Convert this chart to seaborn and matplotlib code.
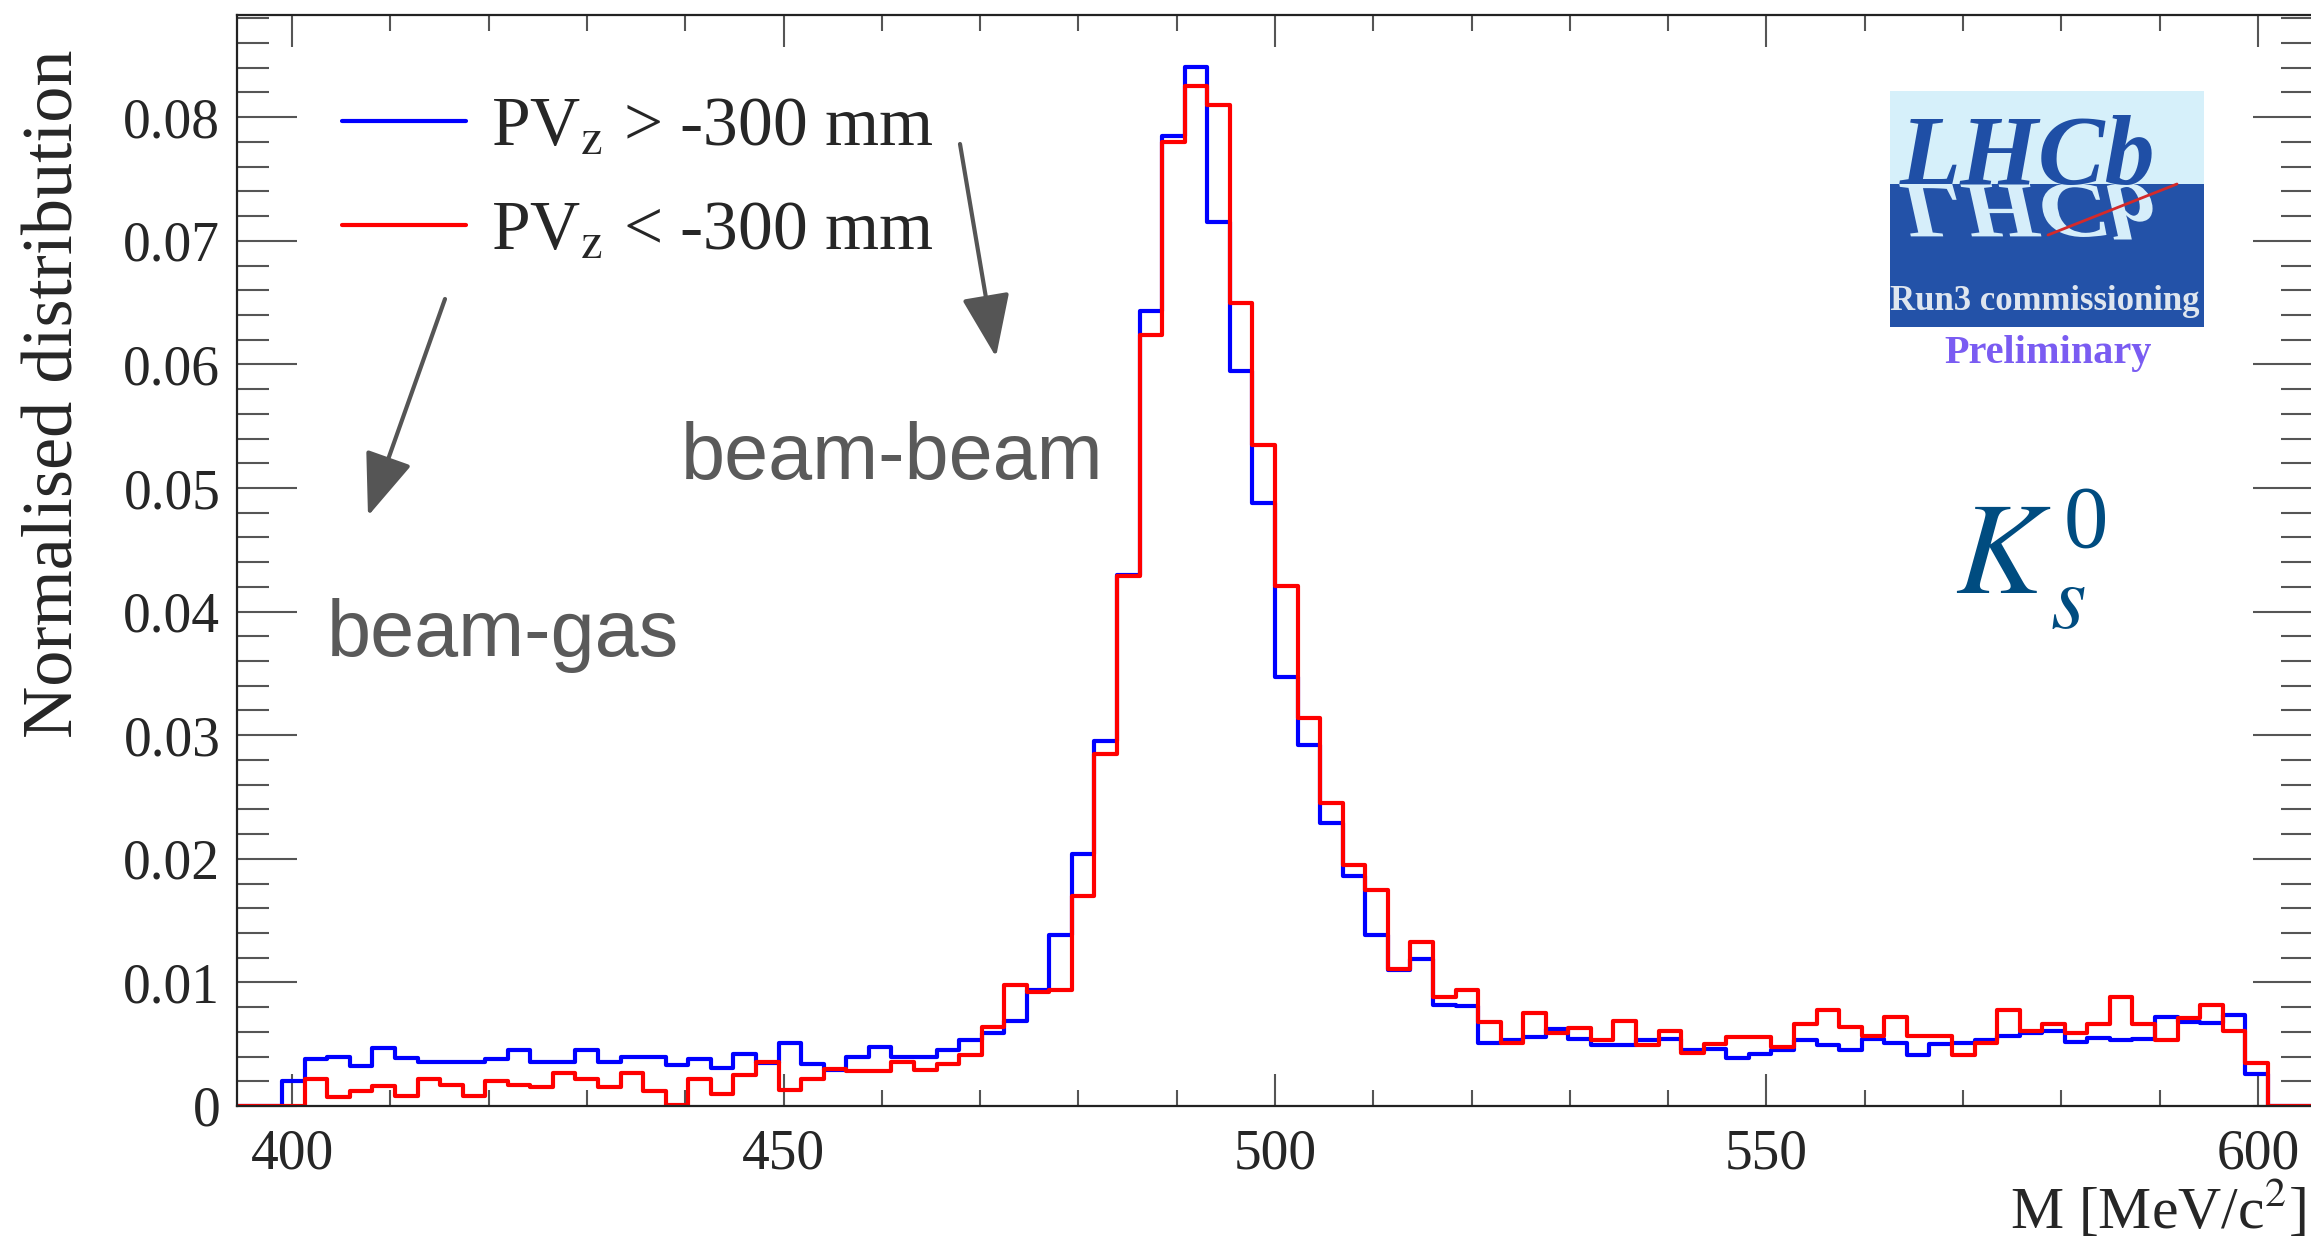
import numpy as np
import pandas as pd
import matplotlib
matplotlib.use('Agg')
import matplotlib.pyplot as plt
import matplotlib.transforms as mtransforms
import seaborn as sns
from matplotlib.lines import Line2D
from matplotlib.patches import Rectangle, PathPatch
from matplotlib.textpath import TextPath
from matplotlib.font_manager import FontProperties
from matplotlib.ticker import FixedLocator, MultipleLocator

# Binning del histograma (92 bins, los extremos vacios)
X_LO, X_HI = 394.4, 605.6
N_BINS = 92

# Distribucion normalizada, PVz > -300 mm (azul)
blue_vals = [0, 0,
             0.0020, 0.0038, 0.0040, 0.0032, 0.0047, 0.0039, 0.0036, 0.0036, 0.0036, 0.0038,
             0.0045, 0.0036, 0.0036, 0.0045, 0.0036, 0.0040, 0.0040, 0.0033, 0.0038, 0.0031,
             0.0042, 0.0035, 0.0051, 0.0034, 0.0029, 0.0040, 0.0048, 0.0040, 0.0040, 0.0045,
             0.0053, 0.0059, 0.0069, 0.0094, 0.0138, 0.0204, 0.0295, 0.0430, 0.0643, 0.0785,
             0.0841, 0.0715, 0.0595, 0.0488, 0.0347, 0.0292, 0.0229, 0.0186, 0.0138, 0.0110,
             0.0119, 0.0082, 0.0081, 0.0051, 0.0053, 0.0056, 0.0062, 0.0054, 0.0049, 0.0049,
             0.0053, 0.0054, 0.0045, 0.0046, 0.0039, 0.0042, 0.0045, 0.0053, 0.0049, 0.0045,
             0.0054, 0.0051, 0.0041, 0.0050, 0.0051, 0.0053, 0.0057, 0.0059, 0.0061, 0.0052,
             0.0055, 0.0053, 0.0054, 0.0072, 0.0068, 0.0067, 0.0074, 0.0026,
             0, 0]

# Distribucion normalizada, PVz < -300 mm (rojo)
red_vals = [0, 0,
            0.0, 0.0022, 0.0007, 0.0012, 0.0016, 0.0008, 0.0022, 0.0017, 0.0008, 0.0020,
            0.0017, 0.0015, 0.0027, 0.0022, 0.0015, 0.0027, 0.0012, 0.0001, 0.0022, 0.0010,
            0.0025, 0.0036, 0.0013, 0.0022, 0.0030, 0.0028, 0.0028, 0.0036, 0.0029, 0.0034,
            0.0041, 0.0064, 0.0098, 0.0092, 0.0094, 0.0170, 0.0285, 0.0429, 0.0624, 0.0780,
            0.0825, 0.0810, 0.0650, 0.0535, 0.0421, 0.0314, 0.0245, 0.0195, 0.0175, 0.0111,
            0.0133, 0.0088, 0.0094, 0.0068, 0.0051, 0.0075, 0.0059, 0.0063, 0.0053, 0.0069,
            0.0049, 0.0061, 0.0043, 0.0050, 0.0056, 0.0056, 0.0048, 0.0066, 0.0078, 0.0064,
            0.0057, 0.0072, 0.0057, 0.0057, 0.0041, 0.0051, 0.0078, 0.0061, 0.0066, 0.0059,
            0.0066, 0.0088, 0.0066, 0.0053, 0.0071, 0.0082, 0.0061, 0.0035,
            0, 0]

x_ticks = [400, 450, 500, 550, 600]
x_tick_labels = ['400', '450', '500', '550', '600']
y_ticks = [0, 0.01, 0.02, 0.03, 0.04, 0.05, 0.06, 0.07, 0.08]
y_tick_labels = ['0', '0.01', '0.02', '0.03', '0.04', '0.05', '0.06', '0.07', '0.08']
legend_labels = ['PV$_{\\mathrm{z}}$ > -300 mm', 'PV$_{\\mathrm{z}}$ < -300 mm']

edges = np.linspace(X_LO, X_HI, N_BINS + 1)
centers = (edges[:-1] + edges[1:]) / 2
df = pd.DataFrame({'M': centers, 'blue': blue_vals, 'red': red_vals})

sns.set_style('ticks')
plt.rcParams['font.family'] = ['Liberation Serif', 'DejaVu Serif']
plt.rcParams['mathtext.fontset'] = 'stix'

W, H = 2311, 1237
fig = plt.figure(figsize=(W / 100, H / 100), dpi=100)


def fx(px):
    return px / W


def fy(py):
    return 1 - py / H


ax = fig.add_axes([fx(237), fy(1106), fx(2313) - fx(237), fy(15) - fy(1106)])

# Histogramas tipo "step"
sns.histplot(data=df, x='M', weights='blue', bins=edges.tolist(), element='step',
             fill=False, color='#0000ff', linewidth=3, ax=ax)
sns.histplot(data=df, x='M', weights='red', bins=edges.tolist(), element='step',
             fill=False, color='#ff0000', linewidth=3, ax=ax)

ax.set_xlim(X_LO, X_HI)
ax.set_ylim(0, 0.08827)
ax.set_xlabel('')
ax.set_ylabel('')

ax.xaxis.set_major_locator(FixedLocator(x_ticks))
ax.set_xticklabels(x_tick_labels)
ax.xaxis.set_minor_locator(MultipleLocator(10))
ax.yaxis.set_major_locator(FixedLocator(y_ticks))
ax.set_yticklabels(y_tick_labels)
ax.yaxis.set_minor_locator(MultipleLocator(0.002))

ax.tick_params(axis='both', which='both', direction='in', top=True, right=True,
               color='#555555', width=1.5)
ax.tick_params(axis='y', which='major', length=43, pad=12, labelsize=40)
ax.tick_params(axis='y', which='minor', length=23)
ax.tick_params(axis='x', which='major', length=23, pad=16, labelsize=40)
ax.tick_params(axis='x', which='minor', length=11.5)
for s in ax.spines.values():
    s.set_color('#222222')
    s.set_linewidth(1.6)

# Titulos de ejes
fig.text(fx(55), fy(50), 'Normalised distribution', rotation=90, ha='center', va='top',
         fontsize=52)
fig.text(fx(2010), fy(1228), 'M [MeV/c$^{2}$]', ha='left', va='baseline', fontsize=43)

# Leyenda
handles = [Line2D([], [], color='#0000ff', lw=3), Line2D([], [], color='#ff0000', lw=3)]
ax.legend(handles, legend_labels, loc='upper left', bbox_to_anchor=(fx(342), fy(97)),
          bbox_transform=fig.transFigure, frameon=False, fontsize=50, borderpad=0,
          borderaxespad=0, handlelength=1.78, handletextpad=0.36, labelspacing=0.58)

# Anotaciones
gray = '#5a5a5a'
fig.text(fx(681), fy(479), 'beam-beam', family='Liberation Sans', fontsize=57,
         color=gray, ha='left', va='baseline')
fig.text(fx(327), fy(656), 'beam-gas', family='Liberation Sans', fontsize=57,
         color=gray, ha='left', va='baseline')
arrow = dict(arrowstyle='-|>,head_length=1.3,head_width=0.5', mutation_scale=30,
             lw=3, color='#555555', shrinkA=0, shrinkB=0)
ax.annotate('', xy=(fx(996), fy(357)), xytext=(fx(960), fy(144)),
            xycoords='figure fraction', textcoords='figure fraction', arrowprops=arrow)
ax.annotate('', xy=(fx(368), fy(516)), xytext=(fx(445), fy(299)),
            xycoords='figure fraction', textcoords='figure fraction', arrowprops=arrow)

# Logo LHCb
fig.add_artist(Rectangle((fx(1890), fy(184)), fx(2204) - fx(1890), fy(91) - fy(184),
                         transform=fig.transFigure, color='#d6f0fa', lw=0))
fig.add_artist(Rectangle((fx(1890), fy(327)), fx(2204) - fx(1890), fy(184) - fy(327),
                         transform=fig.transFigure, color='#2352a8', lw=0))
logo_size = 72
fig.text(fx(1900), fy(184), 'LHCb', fontsize=logo_size, style='italic', weight='bold',
         color='#1f4fa6', ha='left', va='baseline')
tp = TextPath((0, 0), 'LHCb', size=logo_size * 100 / 72,
              prop=FontProperties(family='Liberation Serif', style='italic', weight='bold'))
mirror = mtransforms.Affine2D().scale(1, -0.8).translate(1900, H - 184)
fig.add_artist(PathPatch(tp, transform=mirror, color='#d6eefa', lw=0))
fig.add_artist(Line2D([fx(2048), fx(2177)], [fy(235), fy(184)], transform=fig.transFigure,
                      color='#d42a2a', lw=2))
fig.text(fx(2045), fy(302), 'Run3 commissioning', fontsize=25, weight='bold',
         color='#dfe6ef', ha='center', va='center')
fig.text(fx(2048), fy(354), 'Preliminary', fontsize=29, weight='bold', color='#7a5cf2',
         ha='center', va='center')

# Etiqueta de la particula K_s^0
kcol = '#004c80'
fig.text(fx(1955), fy(593), '$K$', fontsize=94, color=kcol, ha='left', va='baseline')
fig.text(fx(2064), fy(547), '0', fontsize=64, color=kcol, ha='left', va='baseline')
fig.text(fx(2050), fy(628), '$s$', fontsize=66, color=kcol, ha='left', va='baseline')

fig.savefig('out.png', dpi=100)
